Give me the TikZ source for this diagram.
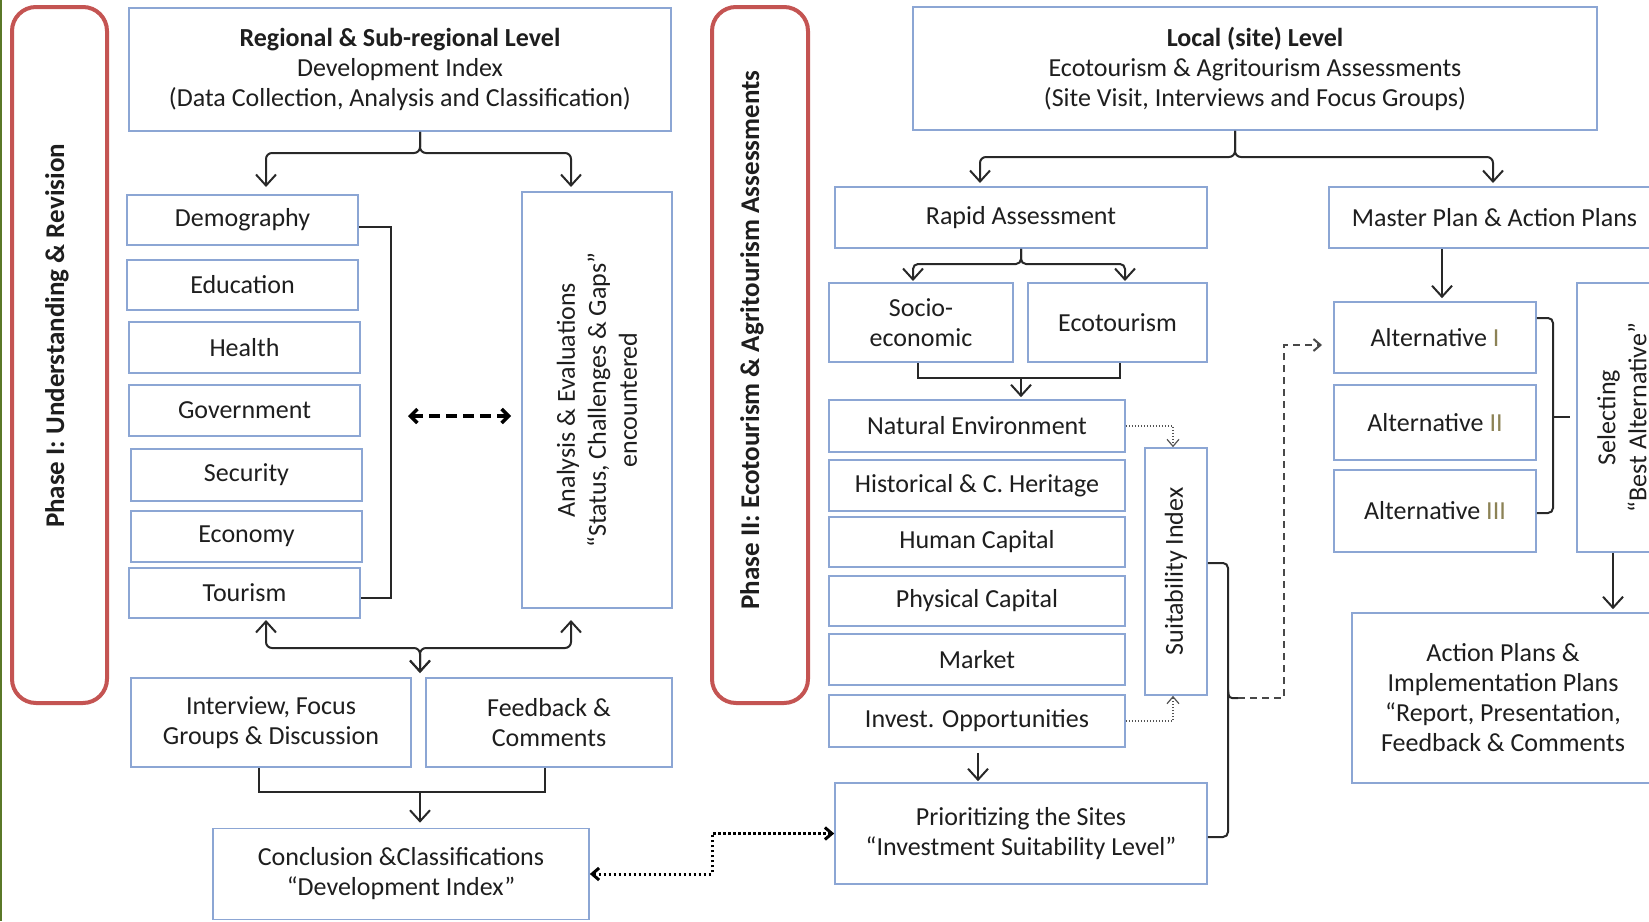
\documentclass[tikz,border=0pt]{standalone}
\usepackage{fontspec}
\setmainfont{Carlito}
\usetikzlibrary{arrows.meta,calc}
\definecolor{boxblue}{RGB}{140,166,212}
\definecolor{phasered}{RGB}{196,84,82}
\definecolor{linegray}{RGB}{40,40,40}
\definecolor{txt}{RGB}{30,30,30}
\definecolor{numcol}{RGB}{140,130,85}
\definecolor{edgegreen}{RGB}{90,120,40}
\begin{document}
\begin{tikzpicture}[x=1pt,y=-1pt,
  box/.style={draw=boxblue, line width=1.6pt, fill=white, inner sep=2pt, align=center, text=txt, font=\fontsize{26}{30}\selectfont},
  phasebox/.style={draw=phasered, line width=4pt, rounded corners=24pt, fill=white},
  phaselabel/.style={rotate=90, text=txt, font=\fontsize{27}{32}\selectfont\bfseries},
  rlabel/.style={rotate=90, align=center, text=txt, font=\fontsize{26}{31}\selectfont},
  conn/.style={draw=linegray, line width=2pt},
  arr/.tip={Straight Barb[length=11pt,width=20pt]},
  arrsm/.tip={Straight Barb[length=7pt,width=12pt]},
  thindot/.style={draw=linegray!80, line width=1.2pt, dash pattern=on 1.5pt off 1.5pt},
  thickdot/.style={draw=black, line width=3pt, dash pattern=on 2.5pt off 2.5pt},
  dashline/.style={draw=linegray!85, line width=2pt, dash pattern=on 7pt off 5pt},
  bolddash/.style={draw=black, line width=3.5pt, dash pattern=on 11pt off 6pt}
]
\useasboundingbox (0,0) rectangle (1649,921);
\fill[white] (0,0) rectangle (1649,921);
\begin{scope}
\clip (0,0) rectangle (1649,921);
\draw[edgegreen, line width=2.5pt] (1,0) -- (1,921);

% ---------- Phase I ----------
\node[phasebox, minimum width=95, minimum height=696] (ph1) at (59.5,355) {};
\node[phaselabel] (ph1t) at (57,336) {Phase I: Understanding \& Revision};

\node[box, minimum width=542, minimum height=123] (reg) at (400,69.5)
  {{\bfseries Regional \& Sub-regional Level}\\Development Index\\(Data Collection, Analysis and Classification)};

\node[box, minimum width=231, minimum height=50] (demo) at (242.5,220) {Demography};
\node[box, minimum width=231, minimum height=50] (edu) at (242.5,285) {Education};
\node[box, minimum width=231, minimum height=51] (health) at (244.5,347.5) {Health};
\node[box, minimum width=231, minimum height=51] (gov) at (244.5,410.5) {Government};
\node[box, minimum width=231, minimum height=52] (sec) at (246.5,475) {Security};
\node[box, minimum width=231, minimum height=51] (econ) at (246.5,536.5) {Economy};
\node[box, minimum width=231, minimum height=50] (tour) at (244.5,593) {Tourism};

\node[box, minimum width=150, minimum height=416] (ana) at (597,400) {};
\node[rlabel] (anat) at (ana.center) {Analysis \& Evaluations\\“Status, Challenges \& Gaps”\\encountered};

\node[box, minimum width=280, minimum height=89] (inter) at (271,722.5) {Interview, Focus\\Groups \& Discussion};
\node[box, minimum width=246, minimum height=89] (feed) at (549,722.5) {Feedback \&\\Comments};
\node[box, minimum width=376, minimum height=91] (concl) at (401,874) {Conclusion \&Classifications\\“Development Index”};

% connectors Phase I
\draw[conn, rounded corners=6pt, -{arr}] (420,0 |- reg.south) -- (420,153) -- (266,153) -- (266,187);
\draw[conn, rounded corners=6pt, -{arr}] (420,0 |- reg.south) -- (420,153) -- (571,153) -- (571,187);
\draw[conn] (demo.east |- 0,227) -- (391,227) -- (391,598) -- (tour.east |- 0,598);
\coordinate (dl) at (408,416);
\coordinate (dr) at (511,416);
\draw[bolddash, {Straight Barb[length=7pt,width=14pt]}-{Straight Barb[length=7pt,width=14pt]}] (dl) -- (dr);
\draw[conn, rounded corners=6pt, {arr}-{arr}] (266,620) -- (266,648) -- (420,648) -- (420,673);
\draw[conn, rounded corners=6pt, {arr}-{arr}] (571,620) -- (571,648) -- (420,648) -- (420,673);
\draw[conn] (259,0 |- inter.south) -- (259,792) -- (545,792) -- (545,0 |- feed.south);
\draw[conn, -{arr}, shorten >=5pt] (420,792) -- (420,0 |- concl.north);

% ---------- Phase II ----------
\node[phasebox, minimum width=96, minimum height=696] (ph2) at (760,355) {};
\node[phaselabel] (ph2t) at (752,340) {Phase II: Ecotourism \& Agritourism Assessments};

\node[box, minimum width=684, minimum height=123] (local) at (1255,68.5)
  {{\bfseries Local (site) Level}\\Ecotourism \& Agritourism Assessments\\(Site Visit, Interviews and Focus Groups)};

\node[box, minimum width=372, minimum height=61] (rapid) at (1021,217.5) {Rapid Assessment};
\node[box, minimum width=184, minimum height=79] (socio) at (921,322.5) {Socio-\\economic};
\node[box, minimum width=179, minimum height=79] (ecot) at (1117.5,322.5) {Ecotourism};
\node[box, minimum width=296, minimum height=52] (natenv) at (977,426) {Natural Environment};
\node[box, minimum width=296, minimum height=51] (hist) at (977,485.5) {Historical \& C. Heritage};
\node[box, minimum width=296, minimum height=50] (human) at (977,542) {Human Capital};
\node[box, minimum width=296, minimum height=50] (phys) at (977,601) {Physical Capital};
\node[box, minimum width=296, minimum height=51] (market) at (977,659.5) {Market};
\node[box, minimum width=296, minimum height=52] (invest) at (977,721) {Invest. Opportunities};
\node[box, minimum width=62, minimum height=247] (suit) at (1176,571.5) {};
\node[rlabel] (suitt) at (suit.center) {Suitability Index};
\node[box, minimum width=372, minimum height=101] (prio) at (1021,833.5) {Prioritizing the Sites\\“Investment Suitability Level”};

\node[box, minimum width=331, minimum height=61] (master) at (1494.5,217.5) {Master Plan \& Action Plans};
\node[box, minimum width=202, minimum height=71] (alt1) at (1435,337.5) {Alternative {\color{numcol}I}};
\node[box, minimum width=202, minimum height=75] (alt2) at (1435,422.5) {Alternative {\color{numcol}II}};
\node[box, minimum width=202, minimum height=82] (alt3) at (1435,511) {Alternative {\color{numcol}III}};
\node[box, minimum width=90, minimum height=269] (select) at (1622,417.5) {};
\node[rlabel] (selectt) at (select.center) {Selecting\\“Best Alternative”};
\node[box, minimum width=302, minimum height=170] (action) at (1503,698)
  {Action Plans \&\\Implementation Plans\\“Report, Presentation,\\Feedback \& Comments};

% connectors Phase II
\draw[conn, rounded corners=6pt, -{arr}] (1235,0 |- local.south) -- (1235,157) -- (980,157) -- (980,183);
\draw[conn, rounded corners=6pt, -{arr}] (1235,0 |- local.south) -- (1235,157) -- (1493,157) -- (1493,183);
\draw[conn, rounded corners=5pt, -{arr}] (rapid.south) -- (1021,264) -- (913,264) -- (913,281);
\draw[conn, rounded corners=5pt, -{arr}] (rapid.south) -- (1021,264) -- (1125,264) -- (1125,281);
\draw[conn] (918,0 |- socio.south) -- (918,378) -- (1120,378) -- (1120,0 |- ecot.south);
\draw[conn, -{arr}, shorten >=2pt] (1021,378) -- (1021,0 |- natenv.north);
\draw[thindot, -{arrsm}] (natenv.east) -- (1173,426) -- (1173,0 |- suit.north);
\draw[thindot, -{arrsm}] (invest.east) -- (1173,721) -- (1173,0 |- suit.south);
\draw[conn, -{arr}, shorten >=1pt] ([yshift=-5pt]978,0 |- invest.south) -- (978,0 |- prio.north);
\draw[thickdot, {arrsm}-{arrsm}] (concl.east) -| (712,855) |- (prio.west);

\draw[conn, rounded corners=5pt] (suit.east |- 0,563) -- (1228,563) -- (1228,837) -- (prio.east |- 0,837);
\coordinate (stip) at (1228,698);
\draw[conn, rounded corners=3pt] (1228,690) -- (1229,698) -- (1238,698);
\draw[dashline, -{arrsm}] (1238,698) -- (1284,698) -- (1284,345) -- (1322,345);
\draw[conn, -{arr}, shorten >=3pt] (1442,0 |- master.south) -- (1442,0 |- alt1.north);
\draw[conn, rounded corners=5pt] (alt1.east |- 0,318) -- (1553,318) -- (1553,513) -- (alt3.east |- 0,513);
\draw[conn] (1553,417) -- (1570,417);
\draw[conn, -{arr}, shorten >=3pt] (1613,0 |- select.south) -- (1613,0 |- action.north);
\end{scope}
\end{tikzpicture}
\end{document}
